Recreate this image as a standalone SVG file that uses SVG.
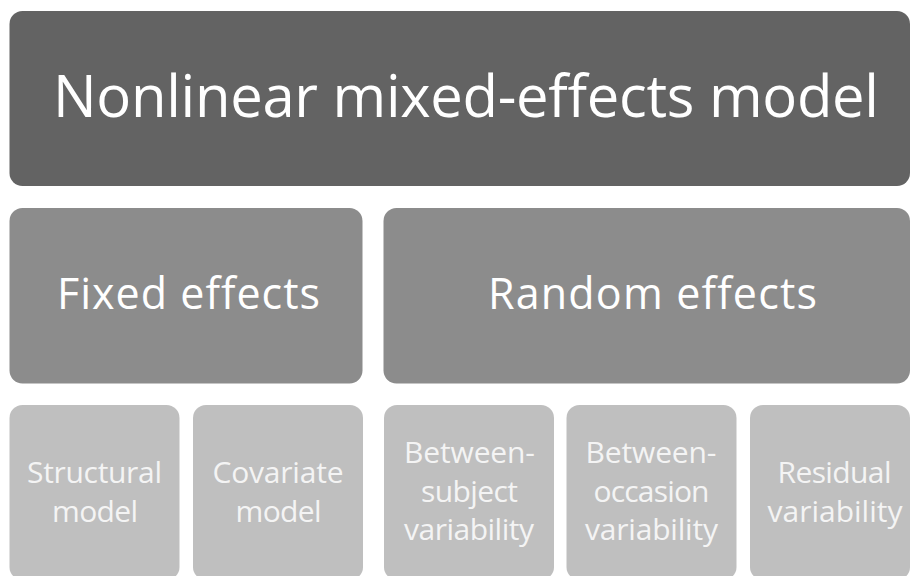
<svg xmlns="http://www.w3.org/2000/svg" width="910" height="576" viewBox="0 0 910 576">
<style>
.t{font-family:"Open Sans","Noto Sans","Liberation Sans",sans-serif;fill:#ffffff;text-anchor:middle;font-variant-ligatures:none}
.l0{fill:#636363}
.l1{fill:#8c8c8c}
.l2{fill:#bfbfbf}
.big{font-size:58px}
.mid{font-size:43px}
.sm{font-size:30px}
.sm2{fill:#f4f4f4}
</style>
<rect width="910" height="576" fill="#ffffff"/>
<g id="root">
<rect class="l0" x="9.5" y="11" width="900.5" height="175" rx="13"/>
<text class="t big" x="466" y="117" textLength="826">Nonlinear mixed-effects model</text>
</g>
<g id="fixed">
<rect class="l1" x="9.5" y="208" width="353" height="175.5" rx="13"/>
<text class="t mid" x="188.5" y="309" textLength="263">Fixed effects</text>
</g>
<g id="random">
<rect class="l1" x="383.5" y="208" width="526.5" height="175.5" rx="13"/>
<text class="t mid" x="652.5" y="309" textLength="329">Random effects</text>
</g>
<g id="structural">
<rect class="l2" x="9.5" y="405" width="170" height="175" rx="13"/>
<text class="t sm sm2" x="94.5" y="483" textLength="135">Structural</text>
<text class="t sm sm2" x="95" y="521.5" textLength="86">model</text>
</g>
<g id="covariate">
<rect class="l2" x="193" y="405" width="170" height="175" rx="13"/>
<text class="t sm sm2" x="278" y="483" textLength="131">Covariate</text>
<text class="t sm sm2" x="278.5" y="521.5" textLength="86">model</text>
</g>
<g id="bsv">
<rect class="l2" x="384" y="405" width="170" height="175" rx="13"/>
<text class="t sm sm2" x="469.5" y="463" textLength="131">Between-</text>
<text class="t sm sm2" x="469.5" y="501.5" textLength="97">subject</text>
<text class="t sm sm2" x="469" y="540" textLength="130">variability</text>
</g>
<g id="bov">
<rect class="l2" x="566.5" y="405" width="170" height="175" rx="13"/>
<text class="t sm sm2" x="651" y="463" textLength="131">Between-</text>
<text class="t sm sm2" x="651.5" y="501.5" textLength="116">occasion</text>
<text class="t sm sm2" x="651.5" y="540" textLength="133">variability</text>
</g>
<g id="residual">
<rect class="l2" x="750" y="405" width="160" height="175" rx="13"/>
<text class="t sm sm2" x="834.5" y="483" textLength="114">Residual</text>
<text class="t sm sm2" x="835" y="521.5" textLength="135">variability</text>
</g>
<g id="connectors"></g>
</svg>
